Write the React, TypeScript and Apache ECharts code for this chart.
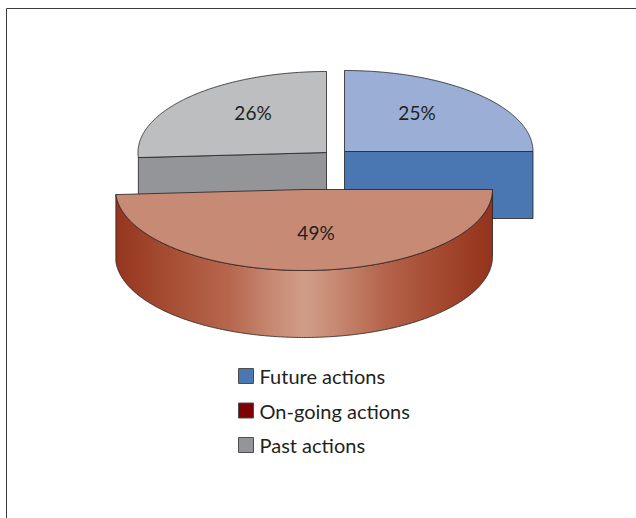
import React, { useEffect, useRef } from "react";
import * as echarts from "echarts";

// Share of actions by status, in percent.
const sliceNames = ["Future actions", "On-going actions", "Past actions"];
const sliceValues = [25, 49, 26];

// Painted back to front: the exploded front slice overlaps the other two.
const paintOrder = [2, 0, 1];

const topColors = ["#9bafd6", "#c78a75", "#bcbec0"];
const wallColors = ["#4a76b2", "#7f0000", "#939598"];
const legendColors = ["#4a76b2", "#7f0000", "#939598"];

const centers = [
  [344.5, 151.5],
  [304, 189.5],
  [326.5, 152.5],
];
const labelOffsets = [
  [72.5, -39.5],
  [12, 42.5],
  [-73.5, -40.5],
];

const RX = 188.5;
const RY = 81;
const DEPTH = 67;
const INK = "#231f20";
const FONT = "Lato";

// Angles run clockwise from twelve o'clock, in radians.
const ellipsePoint = (cx: number, cy: number, a: number) => [
  cx + RX * Math.sin(a),
  cy - RY * Math.cos(a),
];

const arcPoints = (cx: number, cy: number, from: number, to: number) => {
  const steps = Math.max(2, Math.ceil(((to - from) * 180) / Math.PI) * 2);
  const pts: number[][] = [];
  for (let i = 0; i <= steps; i++) {
    pts.push(ellipsePoint(cx, cy, from + ((to - from) * i) / steps));
  }
  return pts;
};

const total = sliceValues.reduce((s, v) => s + v, 0);
const sliceAngles = (index: number) => {
  const before = sliceValues.slice(0, index).reduce((s, v) => s + v, 0);
  return [
    (before / total) * Math.PI * 2,
    ((before + sliceValues[index]) / total) * Math.PI * 2,
  ];
};

const wallStyle = (fill: unknown) => ({ fill, stroke: INK, lineWidth: 0.8 });

const renderSlice = (index: number) => (_params: unknown, api: any) => {
  const value = api.value(0) as number;
  const [cx, cy] = centers[index];
  const [start, end] = sliceAngles(index);
  const children: any[] = [];

  // Cut faces that turn toward the viewer.
  const faces: number[] = [];
  if (Math.sin(start) < -1e-6) faces.push(start);
  if (Math.sin(end) > 1e-6) faces.push(end);
  for (const a of faces) {
    const [px, py] = ellipsePoint(cx, cy, a);
    children.push({
      type: "polygon",
      shape: {
        points: [
          [cx, cy],
          [px, py],
          [px, py + DEPTH],
          [cx, cy + DEPTH],
        ],
      },
      style: wallStyle(wallColors[index]),
    });
  }

  // Curved outer wall: only the part on the near half of the rim shows.
  const wallFrom = Math.max(start, Math.PI / 2);
  const wallTo = Math.min(end, (Math.PI * 3) / 2);
  if (wallTo - wallFrom > 0.2) {
    const rim = arcPoints(cx, cy, wallFrom, wallTo);
    const lower = rim.map(([x, y]) => [x, y + DEPTH]).reverse();
    children.push({
      type: "polygon",
      shape: { points: [...rim, ...lower] },
      style: wallStyle(
        new echarts.graphic.LinearGradient(0, 0, 1, 0, [
          { offset: 0, color: "#96351f" },
          { offset: 0.12, color: "#a34a30" },
          { offset: 0.3, color: "#b7664e" },
          { offset: 0.42, color: "#c78a73" },
          { offset: 0.5, color: "#d19d88" },
          { offset: 0.58, color: "#c78a73" },
          { offset: 0.72, color: "#b4624a" },
          { offset: 0.88, color: "#a1462c" },
          { offset: 1, color: "#93331d" },
        ])
      ),
    });
  }

  // Top face.
  children.push({
    type: "polygon",
    shape: { points: [[cx, cy], ...arcPoints(cx, cy, start, end)] },
    style: { fill: topColors[index], stroke: INK, lineWidth: 0.8 },
  });

  children.push({
    type: "text",
    style: {
      x: cx + labelOffsets[index][0],
      y: cy + labelOffsets[index][1],
      text: `${value}%`,
      fill: INK,
      font: `19px ${FONT}`,
      align: "center",
      verticalAlign: "middle",
    },
  });

  return { type: "group", children };
};

export default function App() {
  const ref = useRef<HTMLDivElement>(null);

  useEffect(() => {
    document.body.style.margin = "0";
    const chart = echarts.init(ref.current!, undefined, { renderer: "svg" });
    chart.setOption({
      animation: false,
      backgroundColor: "#ffffff",
      legend: {
        data: sliceNames.map((name, i) => ({
          name,
          itemStyle: { color: legendColors[i], borderColor: "#4d4d4f", borderWidth: 1 },
        })),
        orient: "vertical",
        left: 233,
        top: 361,
        icon: "rect",
        itemWidth: 15,
        itemHeight: 15,
        itemGap: 14.5,
        selectedMode: false,
        textStyle: { fontFamily: FONT, fontSize: 20, color: INK, padding: [0, 0, 0, 1] },
      },
      graphic: [
        {
          type: "polyline",
          shape: {
            points: [
              [6.5, 518],
              [6.5, 8.5],
              [636, 8.5],
            ],
          },
          style: { fill: "none", stroke: "#3a3a3a", lineWidth: 1 },
        },
      ],
      series: paintOrder.map((i) => ({
        type: "custom",
        name: sliceNames[i],
        coordinateSystem: "none",
        data: [[sliceValues[i]]],
        itemStyle: { color: legendColors[i] },
        renderItem: renderSlice(i),
      })),
    });
    return () => chart.dispose();
  }, []);

  return <div ref={ref} style={{ width: 636, height: 518 }} />;
}
